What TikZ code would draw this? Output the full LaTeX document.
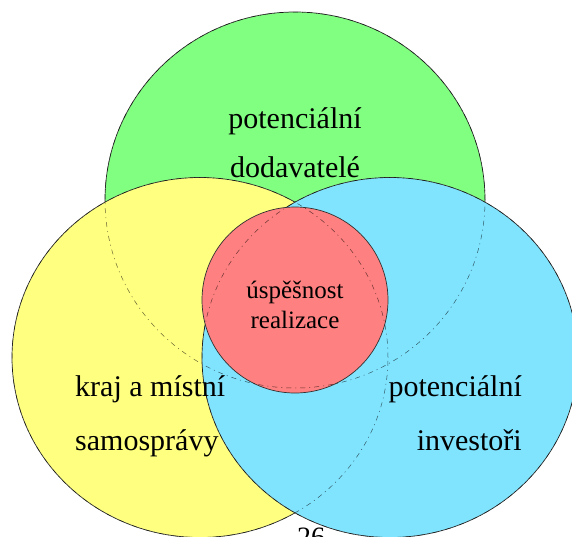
\documentclass[tikz,border=0pt]{standalone}
\usepackage{fontspec}
\setmainfont{Liberation Serif}
\definecolor{gfill}{HTML}{80FF80}
\definecolor{yfill}{HTML}{FFFF80}
\definecolor{cfill}{HTML}{80E4FF}
\definecolor{rfill}{HTML}{FF8080}
\definecolor{edge}{HTML}{303030}
\tikzset{
  blob/.style={draw=edge, line width=0.7pt},
  hidden/.style={draw=black, draw opacity=0.6, line width=0.5pt, dash pattern=on 5pt off 4pt on 1pt off 4pt},
  big/.style={font=\fontsize{30}{36}\selectfont, inner sep=0pt},
  mid/.style={font=\fontsize{25}{30}\selectfont, inner sep=0pt}
}
\begin{document}
\begin{tikzpicture}[x=1pt,y=-1pt]
\useasboundingbox (0,0) rectangle (572,536);
\clip (0,0) rectangle (572,536);
% filled shapes, back to front
\path[blob, fill=gfill] (295,200) ellipse [x radius=190pt, y radius=188pt];
\path[blob, fill=yfill] (200,357.5) ellipse [x radius=188pt, y radius=180pt];
\path[blob, fill=cfill] (390,357.5) ellipse [x radius=188pt, y radius=180pt];
\path[blob, fill=rfill] (295,300) circle [radius=93pt];
% outlines seen through the upper shapes
\path[hidden] (295,200) ellipse [x radius=190pt, y radius=188pt];
\path[hidden] (200,357.5) ellipse [x radius=188pt, y radius=180pt];
\path[hidden] (390,357.5) ellipse [x radius=188pt, y radius=180pt];
% labels
\node[big, anchor=base] (g1) at (295,128) {potenciální};
\node[big, anchor=base] (g2) at (295,177) {dodavatelé};
\node[mid, anchor=base] (r1) at (295,298) {úspěšnost};
\node[mid, anchor=base] (r2) at (295,328) {realizace};
\node[big, anchor=base west] (y1) at (75,396) {kraj a místní};
\node[big, anchor=base west] (y2) at (75,450) {samosprávy};
\node[big, anchor=base east] (c1) at (522,396) {potenciální};
\node[big, anchor=base east] (c2) at (522,450) {investoři};
\node[font=\fontsize{28}{34}\selectfont, inner sep=0pt, anchor=base west] (pg) at (297,546) {26};
\end{tikzpicture}
\end{document}
